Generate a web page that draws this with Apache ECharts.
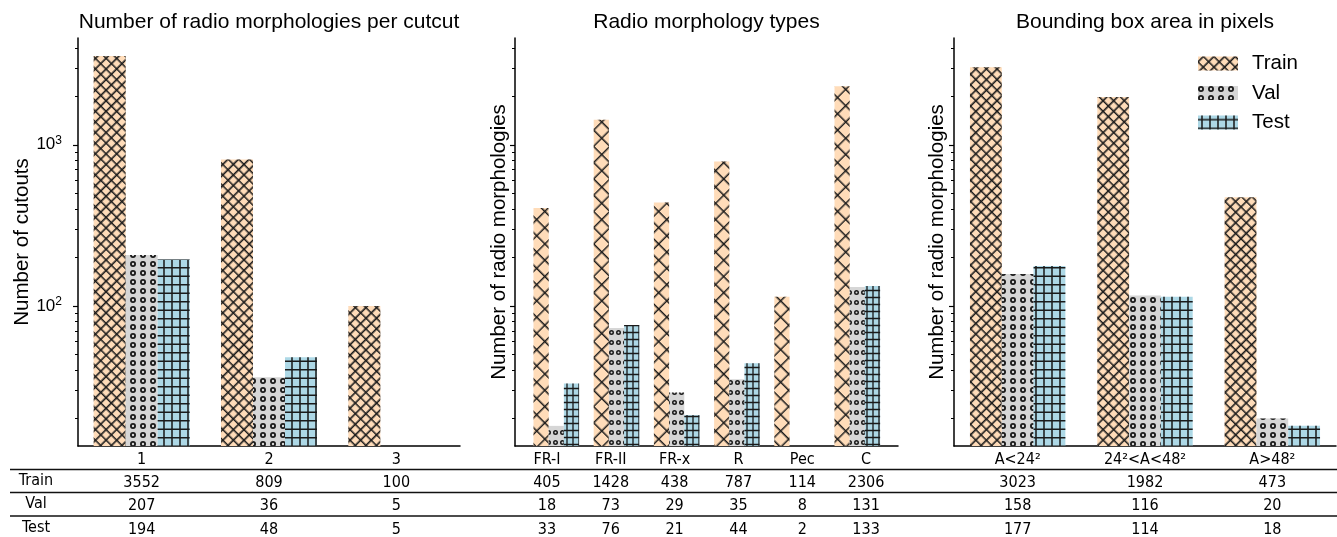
<!DOCTYPE html>
<html><head><meta charset="utf-8">
<script src="https://cdn.jsdelivr.net/npm/echarts@6/dist/echarts.min.js"></script>
<style>html,body{margin:0;padding:0;background:#fff}#chart{width:1337px;height:537px}</style>
</head><body><div id="chart"></div>
<script>
// ---------------- data ----------------
const seriesNames = ['Train', 'Val', 'Test'];
const titles = ['Number of radio morphologies per cutcut', 'Radio morphology types', 'Bounding box area in pixels'];
const yNames = ['Number of cutouts', 'Number of radio morphologies', 'Number of radio morphologies'];

const countCats = ['1', '2', '3'];
const countTrain = [3552, 809, 100];
const countVal = [207, 36, 5];
const countTest = [194, 48, 5];

const morphCats = ['FR-I', 'FR-II', 'FR-x', 'R', 'Pec', 'C'];
const morphTrain = [405, 1428, 438, 787, 114, 2306];
const morphVal = [18, 73, 29, 35, 8, 131];
const morphTest = [33, 76, 21, 44, 2, 133];

const areaCats = ['A<24²', '24²<A<48²', 'A>48²'];
const areaTrain = [3023, 1982, 473];
const areaVal = [158, 116, 20];
const areaTest = [177, 114, 18];

const majorTicks = [100, 1000];
const minorTicks = [20, 30, 40, 50, 60, 70, 80, 90, 200, 300, 400, 500, 600, 700, 800, 900, 2000, 3000, 4000];

// ---------------- layout / style ----------------
const W = 1337, H = 537;
const Y_MIN = 13.5, Y_MAX = 4600;
const gridTop = 38, gridBottomY = 446;
const panels = [
  {left: 78, right: 460, nameGap: 39, barWidth: 32},
  {left: 515, right: 898, nameGap: 5, barWidth: 15.2},
  {left: 954, right: 1336, nameGap: 6, barWidth: 31.8}
];
const FONT = "'Liberation Sans', Arial, sans-serif";
const TFONT = "'DejaVu Sans Condensed', 'DejaVu Sans', sans-serif";
const fills = ['#FFDCB9', '#D6D6D6', '#ADD8E6'];
const hatchColor = '#1a1a1a';

function hashPath(t) {
  const a = 2.5 - t / 2, b = 7.5 - t / 2;
  return 'path://' +
    'M0,' + a + 'h10v' + t + 'h-10z ' +
    'M0,' + b + 'h10v' + t + 'h-10z ' +
    'M' + a + ',0h' + t + 'v10h-' + t + 'z ' +
    'M' + b + ',0h' + t + 'v10h-' + t + 'z';
}
function ringPath(r) {
  return 'path://M0,5A5,5 0 1,1 10,5A5,5 0 1,1 0,5Z ' +
    'M' + (5 - r) + ',5A' + r + ',' + r + ' 0 1,0 ' + (5 + r) + ',5A' + r + ',' + r + ' 0 1,0 ' + (5 - r) + ',5Z';
}
const decalsWide = [
  {symbol: hashPath(1.1), symbolSize: 1, symbolKeepAspect: false, dashArrayX: [15, 0], dashArrayY: [15, 0], rotation: Math.PI / 4, color: hatchColor, backgroundColor: null},
  {symbol: ringPath(2), symbolSize: 1, symbolKeepAspect: true, dashArrayX: [6, 4], dashArrayY: [6, 3], rotation: 0, color: hatchColor, backgroundColor: null},
  {symbol: hashPath(0.95), symbolSize: 1, symbolKeepAspect: false, dashArrayX: [16, 0], dashArrayY: [17, 0], rotation: 0, color: hatchColor, backgroundColor: null}
];
const decalsNarrow = [
  {symbol: hashPath(0.62), symbolSize: 1, symbolKeepAspect: false, dashArrayX: [23, 0], dashArrayY: [23, 0], rotation: Math.PI / 4, color: hatchColor, backgroundColor: null},
  {symbol: ringPath(2), symbolSize: 1, symbolKeepAspect: true, dashArrayX: [5, 2], dashArrayY: [5, 5], rotation: 0, color: hatchColor, backgroundColor: null},
  {symbol: hashPath(1.1), symbolSize: 1, symbolKeepAspect: false, dashArrayX: [12, 0], dashArrayY: [14, 0], rotation: 0, color: hatchColor, backgroundColor: null}
];

const panelData = [
  {cats: countCats, vals: [countTrain, countVal, countTest]},
  {cats: morphCats, vals: [morphTrain, morphVal, morphTest]},
  {cats: areaCats, vals: [areaTrain, areaVal, areaTest]}
];

// ---------------- options ----------------
const grid = panels.map(p => ({left: p.left, width: p.right - p.left, top: gridTop, height: gridBottomY - gridTop,
  containLabel: false, outerBoundsMode: 'none'}));

const xAxis = panelData.map((pd, i) => ({
  type: 'category', gridIndex: i, data: pd.cats, position: 'bottom', boundaryGap: true,
  axisLine: {show: true, onZero: false, lineStyle: {color: '#000', width: 1.5}},
  axisTick: {show: false},
  splitLine: {show: false},
  axisLabel: {
    interval: 0, hideOverlap: false, margin: 2, color: '#000', fontFamily: TFONT, fontSize: 16, lineHeight: 23.3,
    formatter: (v, idx) => [v, pd.vals[0][idx], pd.vals[1][idx], pd.vals[2][idx]].join('\n')
  }
}));
// hidden positional axis for the middle panel's bars
const midSpan = morphCats.length;
xAxis.push({type: 'value', gridIndex: 1, position: 'bottom', show: false, min: -0.686, max: midSpan - 1 + 0.676,
  axisLine: {show: false, onZero: false}, splitLine: {show: false}});

const yAxis = [];
panels.forEach((p, i) => {
  yAxis.push({
    type: 'log', logBase: 10, gridIndex: i, min: Y_MIN, max: Y_MAX, position: 'left',
    axisLine: {show: true, onZero: false, lineStyle: {color: '#000', width: 1.5}},
    axisTick: {show: true, length: 5, lineStyle: {color: '#000', width: 1.2}, customValues: majorTicks},
    axisLabel: {show: i === 0, customValues: majorTicks, margin: 16, color: '#000',
      formatter: v => '{b|10}{s|' + Math.round(Math.log10(v)) + '}',
      rich: {b: {fontFamily: FONT, fontSize: 17, color: '#000'}, s: {fontFamily: FONT, fontSize: 12, color: '#000', padding: [0, 0, 9, 0]}}},
    splitLine: {show: false}, minorTick: {show: false}, minorSplitLine: {show: false},
    name: yNames[i], nameLocation: 'middle', nameGap: p.nameGap,
    nameTextStyle: {fontFamily: FONT, fontSize: 20.5, color: '#000'}
  });
});
panels.forEach((p, i) => {
  yAxis.push({
    type: 'log', logBase: 10, gridIndex: i, min: Y_MIN, max: Y_MAX, position: 'left',
    axisLine: {show: false, onZero: false},
    axisTick: {show: true, length: 3, lineStyle: {color: '#000', width: 1}, customValues: minorTicks},
    axisLabel: {show: false}, splitLine: {show: false}
  });
});

const series = [];
panelData.forEach((pd, i) => {
  const decs = i === 1 ? decalsNarrow : decalsWide;
  seriesNames.forEach((name, s) => {
    const vals = pd.vals[s];
    series.push({
      type: 'bar', name: name,
      xAxisIndex: i === 1 ? 3 : i, yAxisIndex: i,
      data: i === 1 ? vals.map((v, k) => [k, v]) : vals,
      barWidth: panels[i].barWidth, barGap: '0%', clip: true,
      itemStyle: {color: fills[s], decal: decs[s]},
      emphasis: {disabled: true}, animation: false, silent: true
    });
  });
});

const title = titles.map((t, i) => ({
  text: t, left: (panels[i].left + panels[i].right) / 2, top: 12, textAlign: 'center', padding: 0,
  textStyle: {fontFamily: FONT, fontSize: 21, fontWeight: 'normal', color: '#000'}
}));

// table rules and row labels
const tableLineYs = [469.5, 492.5, 516];
const rowLabelYs = [481, 504, 527.5];
const graphic = [];
tableLineYs.forEach(y => graphic.push({type: 'line', shape: {x1: 10, y1: y, x2: W, y2: y}, style: {stroke: '#111', lineWidth: 1.4}, silent: true}));
seriesNames.forEach((n, k) => graphic.push({type: 'text', x: 36, y: rowLabelYs[k], style: {text: n, fill: '#000', font: '16px ' + TFONT, textAlign: 'center', textVerticalAlign: 'middle'}, silent: true}));

const option = {
  animation: false,
  backgroundColor: '#fff',
  title, grid, xAxis, yAxis, series, graphic,
  legend: {
    data: seriesNames, orient: 'vertical', left: 1198, top: 53, padding: 0,
    itemWidth: 40, itemHeight: 14, itemGap: 8.5, icon: 'rect', selectedMode: false,
    textStyle: {fontFamily: FONT, fontSize: 20.5, color: '#000', lineHeight: 20, padding: [0, 0, 0, 9]}
  }
};
const chart = echarts.init(document.getElementById('chart'), null, {renderer: 'canvas', width: W, height: H});
chart.setOption(option);
</script></body></html>
